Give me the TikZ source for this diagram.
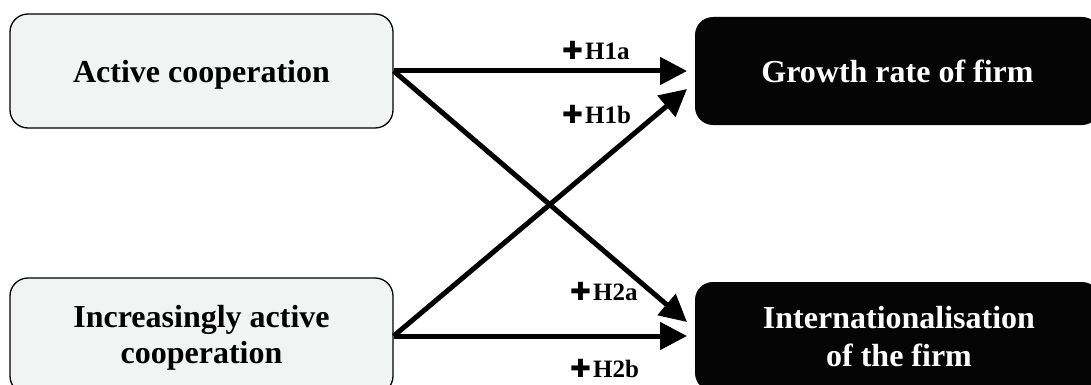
\documentclass[tikz,border=0pt]{standalone}
\usepackage{fontspec}
\setmainfont{Liberation Serif}
\newfontfamily\plusfont{DejaVu Sans}
\usetikzlibrary{arrows.meta}
\definecolor{boxgrey}{HTML}{F2F3F3}
\definecolor{boxblack}{HTML}{050505}
\newcommand{\hplus}{{\plusfont\fontsize{25}{25}\selectfont ✚}\kern2pt}
\begin{document}
\begin{tikzpicture}[x=1pt,y=-1pt,
  lbox/.style={draw=black, line width=1.3pt, fill=boxgrey, rounded corners=18pt, minimum width=383pt, inner sep=0pt},
  dbox/.style={fill=boxblack, rounded corners=18pt, minimum width=405pt, inner sep=0pt},
  btext/.style={font=\fontsize{32}{37}\selectfont\bfseries, anchor=base, inner sep=0pt},
  hlabel/.style={font=\fontsize{25}{25}\selectfont\bfseries, anchor=base west, inner sep=0pt},
  link/.style={line width=5pt, -{Triangle[length=27pt,width=27pt]}},
]
\useasboundingbox (0,0) rectangle (1091,385);
\fill[white] (0,0) rectangle (1091,385);

% boxes
\node[lbox, minimum height=114pt] (ac) at (201.5,71) {};
\node[dbox, minimum height=108pt] (gr) at (897.5,71) {};
\node[lbox, minimum height=116pt] (iac) at (201.5,336) {};
\node[dbox, minimum height=109pt] (int) at (897.5,336.5) {};

% box texts
\node[btext] (tac) at (201.5,83) {Active cooperation};
\node[btext, text=white] (tgr) at (897.5,83) {Growth rate of firm};
\node[btext] (tiac1) at (201.5,327) {Increasingly active};
\node[btext] (tiac2) at (201.5,363) {cooperation};
\node[btext, text=white] (tint1) at (899,328) {Internationalisation};
\node[btext, text=white] (tint2) at (899,366) {of the firm};

% arrow tips
\coordinate (t1) at (687,71);
\coordinate (t2) at (687,322);
\coordinate (t3) at (687,89);
\coordinate (t4) at (687,336);

% connectors
\draw[link] (ac.east) -- (t1);
\draw[link] (ac.east) -- (t2);
\draw[link] (iac.east) -- (t3);
\draw[link] (iac.east) -- (t4);

% labels
\node[hlabel] (h1a) at (562,60) {\hplus H1a};
\node[hlabel] (h1b) at (562,124) {\hplus H1b};
\node[hlabel] (h2a) at (570,300) {\hplus H2a};
\node[hlabel] (h2b) at (570,377) {\hplus H2b};
\end{tikzpicture}
\end{document}
